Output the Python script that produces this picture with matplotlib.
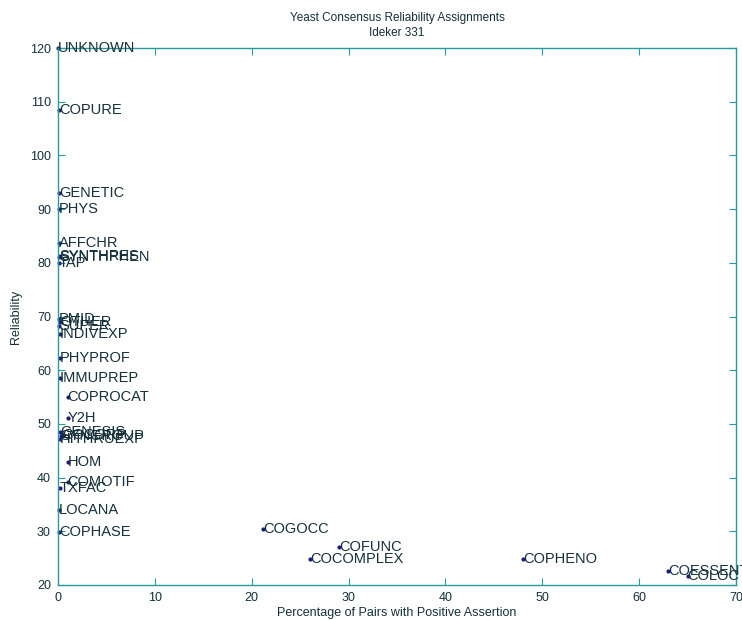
import matplotlib
matplotlib.use("Agg")
import matplotlib.pyplot as plt

# evidence codes, percentage of pairs with positive assertion, reliability
names = ["UNKNOWN", "COPURE", "GENETIC", "PHYS", "AFFCHR", "SYNTHRES", "SYNTHPHEN",
         "TAP", "PMID", "OTHER", "SUPER", "INDIVEXP", "PHYPROF", "IMMUPREP",
         "COPROCAT", "Y2H", "GENESIS", "COCORP", "SYNGROUP", "HITHRUEXP", "HOM",
         "COMOTIF", "TXFAC", "LOCANA", "COPHASE", "COGOCC", "COFUNC", "COCOMPLEX",
         "COPHENO", "COESSENT", "COLOC"]
pct = [0.0, 0.1, 0.1, 0.1, 0.1, 0.2, 0.1,
       0.1, 0.1, 0.2, 0.1, 0.2, 0.2, 0.2,
       1.0, 1.0, 0.2, 0.5, 0.3, 0.2, 1.0,
       1.0, 0.2, 0.1, 0.1, 21.2, 29.0, 26.0,
       48.0, 63.0, 65.0]
rel = [120.0, 108.5, 93.0, 90.0, 83.7, 81.3, 81.0,
       80.0, 69.5, 69.0, 68.3, 66.7, 62.3, 58.6,
       55.0, 51.1, 48.5, 48.0, 47.8, 47.2, 42.9,
       39.2, 38.0, 34.0, 29.8, 30.4, 27.1, 24.8,
       24.8, 22.6, 21.7]

axcol = "#2a9a9a"
txtcol = "#15303a"

plt.rcParams["font.family"] = ["Liberation Sans", "DejaVu Sans"]

fig = plt.figure(figsize=(7.42, 6.2), dpi=100)
ax = fig.add_axes([0.078, 0.0565, 0.914, 0.866])

ax.plot(pct, rel, ".", color="#1a1a80", markersize=4, clip_on=False)
for n, x, y in zip(names, pct, rel):
    ax.text(x, y, n, fontsize=10.5, color=txtcol, va="center", ha="left",
            clip_on=False)

ax.set_xlim(0, 70)
ax.set_ylim(20, 120)
ax.set_xticks(range(0, 71, 10))
ax.set_yticks(range(20, 121, 10))
ax.tick_params(direction="in", length=5, color=axcol, labelcolor=txtcol,
               labelsize=9, top=True, right=True, pad=5)
for s in ax.spines.values():
    s.set_color(axcol)
    s.set_linewidth(1.0)

ax.set_xlabel("Percentage of Pairs with Positive Assertion", fontsize=9,
              color=txtcol, labelpad=2)
ax.set_ylabel("Reliability", fontsize=9, color=txtcol, labelpad=6)
ax.set_title("Yeast Consensus Reliability Assignments\nIdeker 331", fontsize=8.5,
             color=txtcol, linespacing=1.3, pad=9)

fig.savefig("out.png", dpi=100)
